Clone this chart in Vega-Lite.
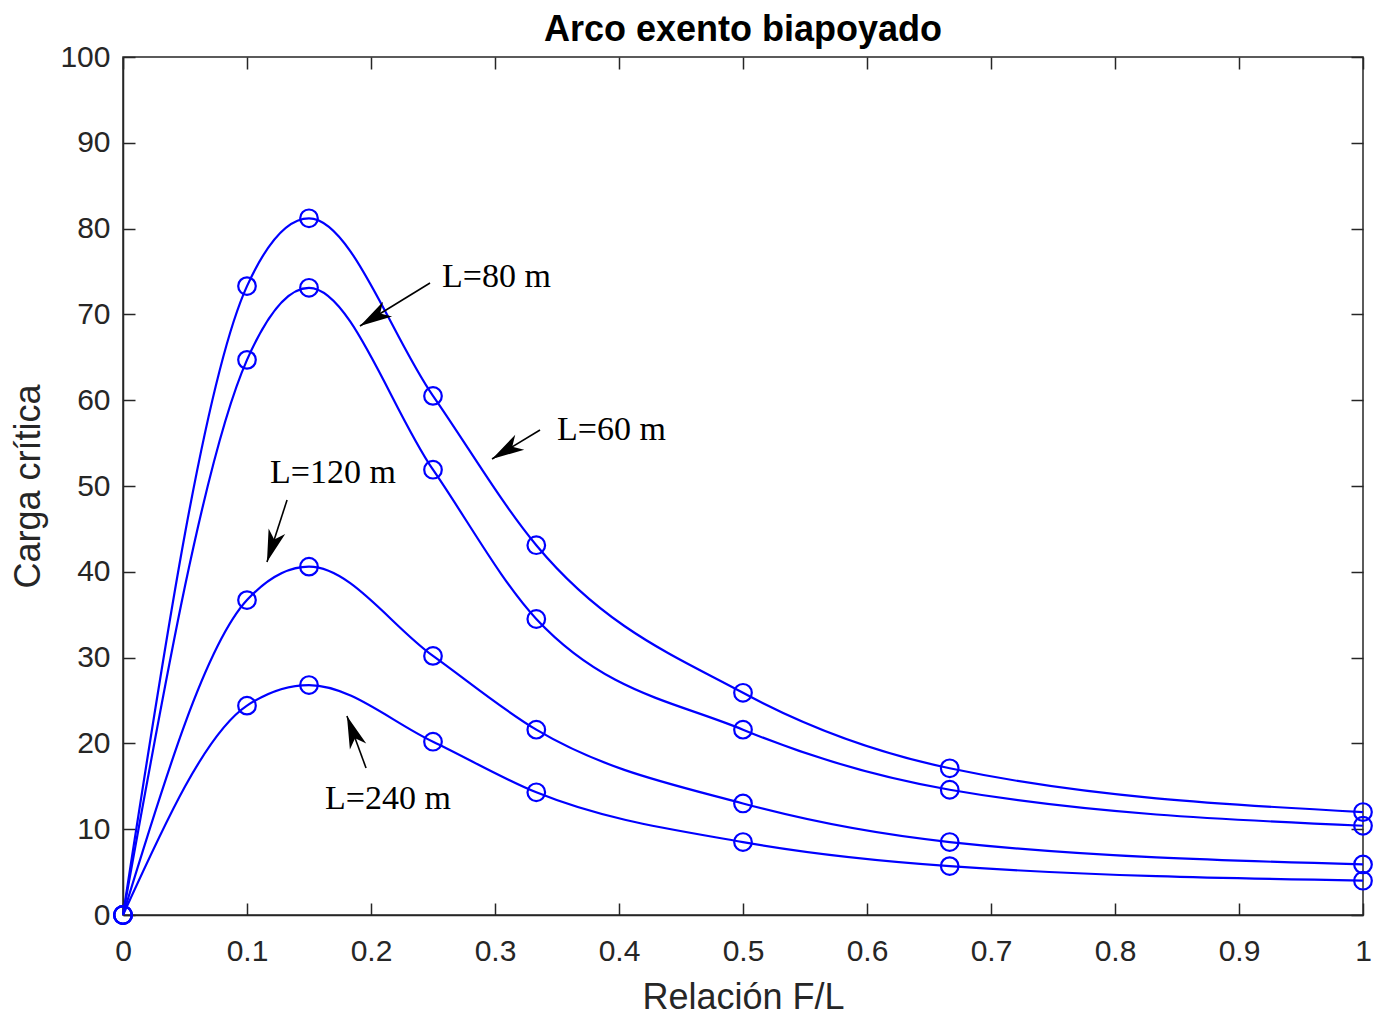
{
  "$schema": "https://vega.github.io/schema/vega-lite/v6.json",
  "width": 1240,
  "height": 858,
  "autosize": {"type": "none"},
  "padding": {"left": 123, "top": 57, "right": 11, "bottom": 102},
  "background": "white",
  "config": {
    "view": {"stroke": "#262626", "strokeWidth": 1.5},
    "font": "Liberation Sans",
    "axis": {
      "grid": false,
      "labelFont": "Liberation Sans",
      "titleFont": "Liberation Sans",
      "labelColor": "#262626",
      "titleColor": "#262626",
      "tickColor": "#262626",
      "domainColor": "#262626",
      "tickWidth": 1.5,
      "domainWidth": 1.5,
      "tickSize": -12,
      "labelFontSize": 30,
      "titleFontSize": 36,
      "titleFontWeight": "normal",
      "labelFlush": false,
      "labelOverlap": false
    }
  },
  "title": {
    "text": "Arco exento biapoyado",
    "fontSize": 36,
    "fontWeight": "bold",
    "font": "Liberation Sans",
    "color": "#000000",
    "offset": -7,
    "frame": "group"
  },
  "datasets": {
    "curves": [
      {"L": "60", "FL": 0, "P": 0},
      {"L": "60", "FL": 0.1, "P": 73.3},
      {"L": "60", "FL": 0.15, "P": 81.2},
      {"L": "60", "FL": 0.25, "P": 60.5},
      {"L": "60", "FL": 0.3333, "P": 43.1},
      {"L": "60", "FL": 0.5, "P": 25.9},
      {"L": "60", "FL": 0.6667, "P": 17.1},
      {"L": "60", "FL": 1, "P": 12.0},
      {"L": "80", "FL": 0, "P": 0},
      {"L": "80", "FL": 0.1, "P": 64.7},
      {"L": "80", "FL": 0.15, "P": 73.1},
      {"L": "80", "FL": 0.25, "P": 51.9},
      {"L": "80", "FL": 0.3333, "P": 34.5},
      {"L": "80", "FL": 0.5, "P": 21.6},
      {"L": "80", "FL": 0.6667, "P": 14.6},
      {"L": "80", "FL": 1, "P": 10.4},
      {"L": "120", "FL": 0, "P": 0},
      {"L": "120", "FL": 0.1, "P": 36.7},
      {"L": "120", "FL": 0.15, "P": 40.6},
      {"L": "120", "FL": 0.25, "P": 30.2},
      {"L": "120", "FL": 0.3333, "P": 21.6},
      {"L": "120", "FL": 0.5, "P": 13.0},
      {"L": "120", "FL": 0.6667, "P": 8.5},
      {"L": "120", "FL": 1, "P": 5.9},
      {"L": "240", "FL": 0, "P": 0},
      {"L": "240", "FL": 0.1, "P": 24.4},
      {"L": "240", "FL": 0.15, "P": 26.8},
      {"L": "240", "FL": 0.25, "P": 20.2},
      {"L": "240", "FL": 0.3333, "P": 14.3},
      {"L": "240", "FL": 0.5, "P": 8.5},
      {"L": "240", "FL": 0.6667, "P": 5.7},
      {"L": "240", "FL": 1, "P": 4.0}
    ],
    "notes": [
      {"label": "L=80 m", "x0": 0.2476, "y0": 73.66, "x1": 0.1911, "y1": 68.65, "tx": 0.2573, "ty": 73.19},
      {"label": "L=60 m", "x0": 0.3363, "y0": 56.53, "x1": 0.2976, "y1": 53.15, "tx": 0.35, "ty": 55.36},
      {"label": "L=120 m", "x0": 0.1323, "y0": 48.37, "x1": 0.1161, "y1": 41.14, "tx": 0.1185, "ty": 50.35},
      {"label": "L=240 m", "x0": 0.196, "y0": 17.13, "x1": 0.1806, "y1": 23.19, "tx": 0.1629, "ty": 12.35}
    ]
  },
  "layer": [
    {
      "data": {"name": "curves"},
      "mark": {"type": "line", "interpolate": "monotone", "color": "#0000ff", "strokeWidth": 2.2},
      "encoding": {
        "x": {
          "field": "FL", "type": "quantitative",
          "scale": {"domain": [0, 1], "nice": false, "zero": false},
          "axis": {
            "orient": "bottom",
            "values": [0, 0.1, 0.2, 0.3, 0.4, 0.5, 0.6, 0.7, 0.8, 0.9, 1],
            "format": ".1~f",
            "title": "Relación F/L",
            "labelPadding": 33,
            "titlePadding": 14
          }
        },
        "y": {
          "field": "P", "type": "quantitative",
          "scale": {"domain": [0, 100], "nice": false},
          "axis": {
            "orient": "left",
            "values": [0, 10, 20, 30, 40, 50, 60, 70, 80, 90, 100],
            "format": "d",
            "title": "Carga crítica",
            "labelPadding": 25,
            "titlePadding": 12
          }
        },
        "detail": {"field": "L"}
      }
    },
    {
      "data": {"name": "curves"},
      "mark": {"type": "point", "shape": "circle", "filled": false, "color": "#0000ff", "size": 310, "strokeWidth": 2.2, "opacity": 1},
      "encoding": {
        "x": {
          "field": "FL", "type": "quantitative",
          "axis": {"orient": "top", "values": [0, 0.1, 0.2, 0.3, 0.4, 0.5, 0.6, 0.7, 0.8, 0.9, 1], "labels": false, "title": null, "domain": false}
        },
        "y": {
          "field": "P", "type": "quantitative",
          "axis": {"orient": "right", "values": [0, 10, 20, 30, 40, 50, 60, 70, 80, 90, 100], "labels": false, "title": null, "domain": false}
        }
      }
    },
    {
      "data": {"name": "notes"},
      "mark": {"type": "rule", "color": "#000000", "strokeWidth": 1.6},
      "encoding": {
        "x": {"field": "x0", "type": "quantitative", "axis": null},
        "y": {"field": "y0", "type": "quantitative", "axis": null},
        "x2": {"field": "x1"},
        "y2": {"field": "y1"}
      }
    },
    {
      "data": {"name": "notes"},
      "transform": [{"filter": {"field": "label", "equal": "L=80 m"}}],
      "mark": {"type": "point", "shape": "M0,0 L0.7,2.6 L0,1.9 L-0.7,2.6 Z", "filled": true, "color": "#000000", "size": 620, "opacity": 1, "strokeWidth": 0, "angle": 238.5},
      "encoding": {
        "x": {"field": "x1", "type": "quantitative", "axis": null},
        "y": {"field": "y1", "type": "quantitative", "axis": null}
      }
    },
    {
      "data": {"name": "notes"},
      "transform": [{"filter": {"field": "label", "equal": "L=60 m"}}],
      "mark": {"type": "point", "shape": "M0,0 L0.7,2.6 L0,1.9 L-0.7,2.6 Z", "filled": true, "color": "#000000", "size": 620, "opacity": 1, "strokeWidth": 0, "angle": 238.9},
      "encoding": {
        "x": {"field": "x1", "type": "quantitative", "axis": null},
        "y": {"field": "y1", "type": "quantitative", "axis": null}
      }
    },
    {
      "data": {"name": "notes"},
      "transform": [{"filter": {"field": "label", "equal": "L=120 m"}}],
      "mark": {"type": "point", "shape": "M0,0 L0.7,2.6 L0,1.9 L-0.7,2.6 Z", "filled": true, "color": "#000000", "size": 620, "opacity": 1, "strokeWidth": 0, "angle": 197.9},
      "encoding": {
        "x": {"field": "x1", "type": "quantitative", "axis": null},
        "y": {"field": "y1", "type": "quantitative", "axis": null}
      }
    },
    {
      "data": {"name": "notes"},
      "transform": [{"filter": {"field": "label", "equal": "L=240 m"}}],
      "mark": {"type": "point", "shape": "M0,0 L0.7,2.6 L0,1.9 L-0.7,2.6 Z", "filled": true, "color": "#000000", "size": 620, "opacity": 1, "strokeWidth": 0, "angle": 339.9},
      "encoding": {
        "x": {"field": "x1", "type": "quantitative", "axis": null},
        "y": {"field": "y1", "type": "quantitative", "axis": null}
      }
    },
    {
      "data": {"name": "notes"},
      "mark": {"type": "text", "font": "Liberation Serif", "fontSize": 34, "align": "left", "baseline": "alphabetic", "color": "#000000"},
      "encoding": {
        "x": {"field": "tx", "type": "quantitative", "axis": null},
        "y": {"field": "ty", "type": "quantitative", "axis": null},
        "text": {"field": "label"}
      }
    }
  ],
  "resolve": {"axis": {"x": "independent", "y": "independent"}}
}
